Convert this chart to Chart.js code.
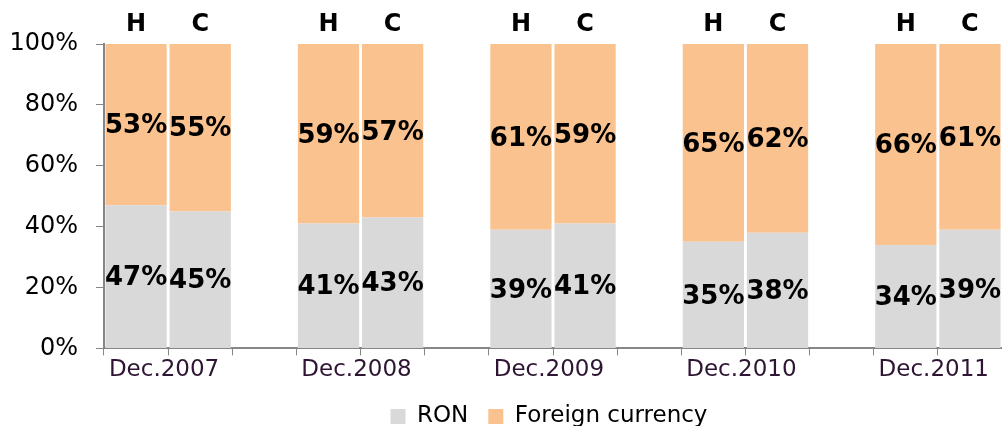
<!DOCTYPE html>
<html>
<head>
<meta charset="utf-8">
<script src="https://cdn.jsdelivr.net/npm/chart.js@4/dist/chart.umd.min.js"></script>
<style>
  html, body { margin: 0; padding: 0; background: #fff; }
  #wrap { width: 1002px; height: 426px; position: relative; }
</style>
</head>
<body>
<div id="wrap"><canvas id="share_chart"></canvas></div>
<script>
// data
const years = ['Dec.2007', 'Dec.2008', 'Dec.2009', 'Dec.2010', 'Dec.2011'];
const sectors = ['H', 'C'];
const ronH = [47, 41, 39, 35, 34];
const ronC = [45, 43, 41, 38, 39];
const fxH = [53, 59, 61, 65, 66];
const fxC = [55, 57, 59, 62, 61];
const yTicks = [0, 20, 40, 60, 80, 100];

// one slot per bar, plus an empty slot between years
let slotLabels = [], slotSector = [], ronData = [], fxData = [];
years.forEach(function(y, i){
  slotLabels.push(y, '');
  slotSector.push(sectors[0], sectors[1]);
  ronData.push(ronH[i], ronC[i]);
  fxData.push(fxH[i], fxC[i]);
  if(i < years.length-1){ slotLabels.push(''); slotSector.push(''); ronData.push(null); fxData.push(null); }
});

const FONT = '"DejaVu Sans", Verdana, sans-serif';

// values inside the bars and H / C above them
const barLabels = {
  id: 'barLabels',
  afterLayout(chart) {
    // legend sits centred under the plot area, not the whole canvas
    chart.legend.left += 48;
    chart.legend.right += 48;
  },
  afterDatasetsDraw(chart) {
    const ctx = chart.ctx;
    ctx.save();
    ctx.fillStyle = '#000';
    ctx.textAlign = 'center';
    ctx.textBaseline = 'middle';
    ctx.font = 'bold 26px ' + FONT;
    chart.data.datasets.forEach(function(ds, di){
      chart.getDatasetMeta(di).data.forEach(function(bar, i){
        const v = ds.data[i];
        if(v == null) return;
        const p = bar.getProps(['x', 'y', 'base'], true);
        ctx.fillText(v + '%', p.x, (p.y + p.base)/2 + 2);
      });
    });
    ctx.font = 'bold 24px ' + FONT;
    chart.getDatasetMeta(1).data.forEach(function(bar, i){
      if(!slotSector[i]) return;
      ctx.fillText(slotSector[i], bar.x, chart.chartArea.top - 19);
    });
    ctx.restore();
  }
};

new Chart(document.getElementById('share_chart').getContext('2d'), {
  type: 'bar',
  data: {
    labels: slotLabels,
    datasets: [
      { label: 'RON', data: ronData, backgroundColor: '#d9d9d9', barPercentage: 0.955, categoryPercentage: 1 },
      { label: 'Foreign currency', data: fxData, backgroundColor: '#fac28f', barPercentage: 0.955, categoryPercentage: 1 }
    ]
  },
  options: {
    responsive: true,
    maintainAspectRatio: false,
    animation: false,
    layout: { padding: { top: 44, right: 0, left: 0, bottom: -12 } },
    plugins: {
      legend: {
        position: 'bottom',
        labels: { boxWidth: 15, boxHeight: 15, color: '#000', font: { family: FONT, size: 23 }, padding: 20 }
      },
      tooltip: { enabled: false }
    },
    scales: {
      x: {
        stacked: true,
        z: 1,
        grid: { drawOnChartArea: false, drawTicks: true, tickLength: 7, color: '#868686', offset: true },
        border: { color: '#868686', width: 2 },
        ticks: { color: '#2e1533', font: { family: FONT, size: 23 }, maxRotation: 0, autoSkip: false, labelOffset: 28, padding: 1 }
      },
      y: {
        stacked: true,
        z: 1,
        min: 0, max: 100,
        afterFit: function(s){ s.width = 104; },
        afterBuildTicks: function(s){ s.ticks = yTicks.map(function(v){ return { value: v }; }); },
        grid: { drawOnChartArea: false, drawTicks: true, tickLength: 8, color: '#868686' },
        border: { color: '#868686', width: 2 },
        ticks: { color: '#000', font: { family: FONT, size: 24 }, padding: 18, callback: function(v){ return v + '%'; } }
      }
    }
  },
  plugins: [barLabels]
});
</script>
</body>
</html>
